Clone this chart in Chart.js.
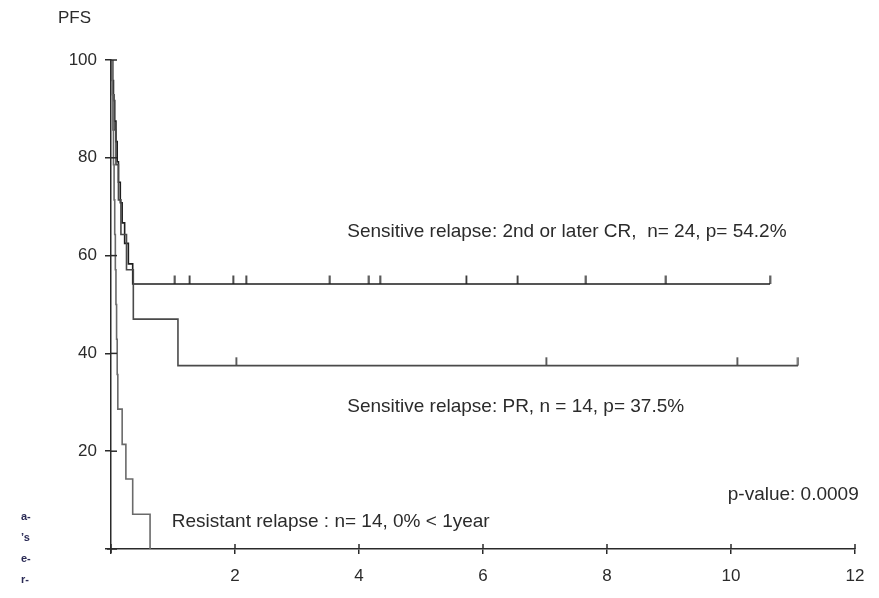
<!DOCTYPE html>
<html>
<head>
<meta charset="utf-8">
<script src="https://cdn.jsdelivr.net/npm/chart.js@4.4.1/dist/chart.umd.min.js"></script>
<style>
  html, body { margin: 0; padding: 0; background: #fff; }
  #wrap { width: 879px; height: 598px; position: relative; }
</style>
</head>
<body>
<div id="wrap"><canvas id="km"></canvas></div>
<script>
// Kaplan-Meier curves, time in years, PFS in %
var crTimes = [0, 0.02, 0.04, 0.06, 0.08, 0.10, 0.12, 0.15, 0.18, 0.22, 0.28, 0.35, 10.63];
var crSurv = [100, 95.8, 91.7, 87.5, 83.3, 79.2, 75.0, 70.8, 66.7, 62.5, 58.3, 54.2, 54.2];
var crCensor = [1.03, 1.27, 1.97, 2.18, 3.53, 4.16, 4.34, 5.73, 6.56, 7.66, 8.95, 10.63];

var prTimes = [0, 0.03, 0.05, 0.08, 0.12, 0.16, 0.25, 0.36, 1.08, 11.08];
var prSurv = [100, 92.9, 85.7, 78.6, 71.4, 64.3, 57.1, 47.0, 37.5, 37.5];
var prCensor = [2.02, 7.02, 10.1, 11.08];

var resTimes = [0, 0.02, 0.03, 0.04, 0.05, 0.06, 0.07, 0.08, 0.09, 0.10, 0.11, 0.18, 0.24, 0.35, 0.63];
var resSurv = [100, 92.9, 85.7, 78.6, 71.4, 64.3, 57.1, 50.0, 42.9, 35.7, 28.6, 21.4, 14.3, 7.1, 0];

var xTicks = [0, 2, 4, 6, 8, 10, 12];
var yTicks = [0, 20, 40, 60, 80, 100];

// annotation texts with anchor in data units
var notes = [
    { text: 'Sensitive relapse: 2nd or later CR,  n= 24, p= 54.2%', x: 3.81, y: 64.8, align: 'left' }
    , { text: 'Sensitive relapse: PR, n = 14, p= 37.5%', x: 3.81, y: 29.0, align: 'left' }
    , { text: 'Resistant relapse : n= 14, 0% < 1year', x: 0.98, y: 5.5, align: 'left' }
    , { text: 'p-value: 0.0009', x: 12.06, y: 11.0, align: 'right' }
];
var strayMarks = ['a-', '\u2019s', 'e-', 'r-'];

function toPoints(xs, ys) {
    return xs.map(function (x, i) { return { x: x, y: ys[i] }; });
}

// censor marks sit at the curve value at that time
function censorPoints(times, xs, ys) {
    return times.map(function (t) {
        var v = ys[0];
        for (var i = 0; i < xs.length; i++) if (xs[i] <= t) v = ys[i];
        return { x: t, y: v };
    });
}

// little upward tick used as point style
function tickMark(color) {
    var c = document.createElement('canvas');
    c.width = 3; c.height = 18;
    var g = c.getContext('2d');
    g.strokeStyle = color; g.lineWidth = 1.6;
    g.beginPath(); g.moveTo(1.5, 0.5); g.lineTo(1.5, 9); g.stroke();
    return c;
}

var axisColor = '#2a2a2a';
var textColor = '#2b2b2b';
var font = '"Liberation Sans", Arial, sans-serif';

var extras = {
    id: 'extras',
    afterDraw: function (chart) {
        var ctx = chart.ctx, xs = chart.scales.x, ys = chart.scales.y;
        var area = chart.chartArea;
        ctx.save();
        ctx.strokeStyle = axisColor;
        ctx.lineWidth = 1.5;
        // inner halves of the crossing ticks
        xTicks.forEach(function (v) {
            var px = xs.getPixelForValue(v);
            ctx.beginPath(); ctx.moveTo(px, area.bottom); ctx.lineTo(px, area.bottom - 5); ctx.stroke();
        });
        yTicks.forEach(function (v) {
            var py = ys.getPixelForValue(v);
            ctx.beginPath(); ctx.moveTo(area.left, py); ctx.lineTo(area.left + 6, py); ctx.stroke();
        });
        // axis overshoot at origin
        ctx.beginPath(); ctx.moveTo(area.left - 4, area.bottom); ctx.lineTo(area.left, area.bottom); ctx.stroke();
        ctx.beginPath(); ctx.moveTo(area.left, area.bottom); ctx.lineTo(area.left, area.bottom + 4); ctx.stroke();

        ctx.fillStyle = textColor;
        ctx.font = '19px ' + font;
        ctx.textBaseline = 'middle';
        notes.forEach(function (n) {
            ctx.textAlign = n.align;
            ctx.fillText(n.text, xs.getPixelForValue(n.x), ys.getPixelForValue(n.y));
        });
        ctx.textAlign = 'left';
        ctx.font = '17px ' + font;
        ctx.fillText('PFS', area.left - 53, area.top - 42);

        // scan bleed from the neighbouring page
        ctx.font = 'bold 11px ' + font;
        ctx.fillStyle = '#2a2a55';
        strayMarks.forEach(function (s, i) {
            ctx.fillText(s, 21, 517 + i * 21);
        });
        ctx.restore();
    }
};

new Chart(document.getElementById('km'), {
    type: 'scatter',
    data: {
        datasets: [
            { data: toPoints(resTimes, resSurv), showLine: true, stepped: true, borderColor: '#6a6a6a', borderWidth: 1.6, pointRadius: 0 }
            , { data: toPoints(prTimes, prSurv), showLine: true, stepped: true, borderColor: '#4a4a4a', borderWidth: 1.6, pointRadius: 0 }
            , { data: toPoints(crTimes, crSurv), showLine: true, stepped: true, borderColor: '#1e1e1e', borderWidth: 1.6, pointRadius: 0 }
            , { data: censorPoints(prCensor, prTimes, prSurv), pointStyle: tickMark('#3a3a3a'), pointRadius: 9 }
            , { data: censorPoints(crCensor, crTimes, crSurv), pointStyle: tickMark('#1e1e1e'), pointRadius: 9 }
        ]
    },
    options: {
        responsive: true,
        maintainAspectRatio: false,
        animation: false,
        layout: { padding: { top: 60, right: 24, left: 0, bottom: 0 } },
        plugins: { legend: { display: false }, tooltip: { enabled: false } },
        scales: {
            x: {
                type: 'linear', min: 0, max: 12,
                afterBuildTicks: function (s) { s.ticks = xTicks.map(function (v) { return { value: v }; }); },
                afterFit: function (s) { s.height = 49; },
                border: { color: axisColor, width: 1.5 },
                grid: { drawOnChartArea: false, tickLength: 5, color: axisColor, lineWidth: 1.5 },
                ticks: {
                    color: textColor, font: { size: 17, family: font }, padding: 12,
                    callback: function (v) { return v === 0 ? '' : v; }
                }
            },
            y: {
                min: 0, max: 100,
                afterBuildTicks: function (s) { s.ticks = yTicks.map(function (v) { return { value: v }; }); },
                afterFit: function (s) { s.width = 111; },
                border: { color: axisColor, width: 1.5 },
                grid: { drawOnChartArea: false, tickLength: 6, color: axisColor, lineWidth: 1.5 },
                ticks: {
                    color: textColor, font: { size: 17, family: font }, padding: 8,
                    callback: function (v) { return v === 0 ? '' : v; }
                }
            }
        }
    },
    plugins: [extras]
});
</script>
</body>
</html>
